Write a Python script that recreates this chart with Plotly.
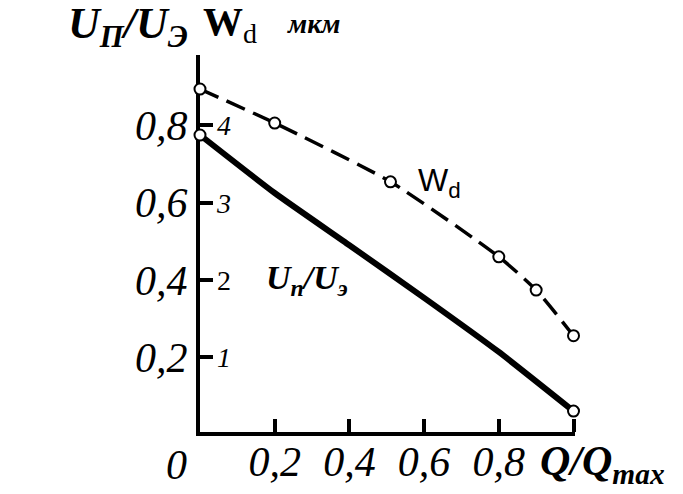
import plotly.graph_objects as go

# ---- data ----
q_ratio_u = [0.0, 0.2, 0.4, 0.6, 0.8, 1.0]
u_ratio = [0.775, 0.625, 0.49, 0.354, 0.214, 0.061]

q_ratio_w = [0.0, 0.2, 0.51, 0.8, 0.9, 1.0]
w_d = [4.47, 4.03, 3.27, 2.30, 1.87, 1.28]

x_tickvals = [0.2, 0.4, 0.6, 0.8, 1.0]
x_ticktext = ["0,2", "0,4", "0,6", "0,8", ""]
y_tickvals = [0.2, 0.4, 0.6, 0.8]
y_ticktext = ["0,2", "0,4", "0,6", "0,8"]
w_tickvals = [1, 2, 3, 4]
w_ticktext = ["<i>1</i>", "2", "<i>3</i>", "<i>4</i>"]

# ---- geometry (page body has an 8px margin, so the figure is shrunk by it) ----
OFF = 8
W, H = 683 - OFF, 494 - OFF
ML, MR, MT, MB = 200 - OFF, 108, 55 - OFF, 62
PW, PH = W - ML - MR, H - MT - MB


def px(x, y):
    """reference-picture pixel -> paper coordinates (for text labels only)"""
    return (x - OFF - ML) / PW, (H - MB - (y - OFF)) / PH


SERIF = "Liberation Serif"
SANS = "Liberation Sans"

fig = go.Figure()

fig.add_trace(go.Scatter(
    x=q_ratio_w, y=w_d, yaxis="y2", mode="lines+markers",
    line=dict(color="black", width=3.5, dash="20px,9px", shape="spline", smoothing=0.6),
    marker=dict(symbol="circle", size=11, color="white", line=dict(color="black", width=2)),
    cliponaxis=False, hoverinfo="skip"))

fig.add_trace(go.Scatter(
    x=q_ratio_u, y=u_ratio, mode="lines",
    line=dict(color="black", width=6, shape="spline", smoothing=0.5),
    cliponaxis=False, hoverinfo="skip"))

fig.add_trace(go.Scatter(
    x=[q_ratio_u[0], q_ratio_u[-1]], y=[u_ratio[0], u_ratio[-1]], mode="markers",
    marker=dict(symbol="circle", size=11, color="white", line=dict(color="black", width=2)),
    cliponaxis=False, hoverinfo="skip"))

axis_common = dict(
    showline=True, linewidth=4, linecolor="black", mirror=False,
    ticks="inside", ticklen=13, tickwidth=3.5, tickcolor="black",
    showgrid=False, zeroline=False, layer="below traces", automargin=False,
    tickfont=dict(family=SERIF, size=42, color="black", style="italic"),
)

fig.update_layout(
    template="none",
    width=W, height=H,
    margin=dict(l=ML, r=MR, t=MT, b=MB, pad=0, autoexpand=False),
    paper_bgcolor="white", plot_bgcolor="white",
    showlegend=False,
    xaxis=dict(range=[0, 1.004], tickvals=x_tickvals, ticktext=x_ticktext,
               ticklabelstandoff=-10, **axis_common),
    yaxis=dict(range=[0.007, 0.982], tickvals=y_tickvals, ticktext=y_ticktext,
               **axis_common),
    yaxis2=dict(range=[0.035, 4.91], overlaying="y", side="left", anchor="x",
                tickvals=w_tickvals, ticktext=w_ticktext, ticks="",
                showline=False, showgrid=False, zeroline=False, automargin=False,
                ticklabelposition="inside", ticklabelstandoff=14,
                tickfont=dict(family=SERIF, size=28, color="black")),
)

annotations = []


def add_text(text, x, y, size, family=SERIF, xanchor="left", yanchor="middle"):
    ax, ay = px(x, y)
    annotations.append(dict(text=text, x=ax, y=ay, xref="paper", yref="paper",
                            xanchor=xanchor, yanchor=yanchor, showarrow=False,
                            font=dict(family=family, size=size, color="black")))


# title block at the top-left
add_text("<b><i>U<sub>П</sub>/U<sub>Э</sub></i></b>", 66, 27, 44)
add_text("<b>W</b><sub>d</sub>", 201, 24, 40)
add_text("<b><i>мкм</i></b>", 285, 23, 28)

# origin and x-axis title
add_text("<i>0</i>", 176, 465, 42, xanchor="center")
add_text("<b><i>Q/Q<sub>max</sub></i></b>", 538, 464, 42)

# curve labels
add_text("W<sub>d</sub>", 416, 182, 32, family=SANS)
add_text("<b><i>U<sub>п</sub>/U<sub>э</sub></i></b>", 264, 280, 34)

fig.update_layout(annotations=annotations)

fig.write_html("out.html")
